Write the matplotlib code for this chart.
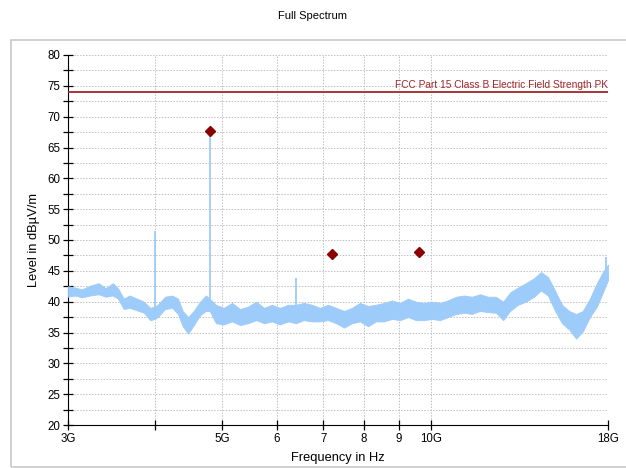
import matplotlib
matplotlib.use("Agg")
import matplotlib.pyplot as plt
from matplotlib.patches import Rectangle
from matplotlib.ticker import FixedLocator, MultipleLocator, NullFormatter

plt.rcParams['font.family'] = ['Liberation Sans', 'DejaVu Sans']

# noise floor envelope of the measured trace (GHz, dBuV/m)
freq_ghz = [3.00, 3.07, 3.14, 3.23, 3.32, 3.40, 3.48, 3.54, 3.61, 3.68,
            3.77, 3.86, 3.94, 4.00, 4.04, 4.14, 4.24, 4.32, 4.39, 4.47,
            4.56, 4.65, 4.74, 4.80, 4.90, 5.03, 5.17, 5.31, 5.45, 5.60,
            5.75, 5.90, 6.06, 6.23, 6.39, 6.56, 6.74, 6.92, 7.11, 7.30,
            7.50, 7.70, 7.90, 8.12, 8.33, 8.56, 8.79, 9.03, 9.27, 9.52,
            9.77, 10.04, 10.31, 10.58, 10.87, 11.16, 11.46, 11.77, 12.09, 12.41,
            12.71, 13.01, 13.35, 13.71, 14.08, 14.41, 14.75, 15.10, 15.45, 15.82,
            16.19, 16.56, 16.95, 17.35, 17.70, 18.00]
level_lo = [40.8, 41.0, 40.7, 41.0, 41.2, 40.8, 41.0, 40.5, 38.8, 39.0,
            38.6, 38.2, 37.0, 37.2, 37.5, 38.8, 39.0, 38.0, 36.0, 34.8,
            36.3, 37.8, 38.5, 38.5, 36.5, 36.3, 36.8, 36.2, 36.5, 37.0,
            36.5, 36.8, 36.3, 36.8, 36.5, 37.0, 36.8, 36.8, 37.0, 36.5,
            35.8, 36.5, 36.8, 36.0, 36.8, 36.8, 37.2, 37.0, 37.5, 37.0,
            37.0, 37.2, 37.0, 37.5, 38.0, 38.2, 38.0, 38.5, 38.3, 38.2,
            37.0, 38.5, 39.5, 40.0, 40.8, 41.8, 41.0, 38.5, 36.5, 35.5,
            34.0, 35.2, 37.5, 39.2, 41.5, 43.5]
level_hi = [42.5, 42.3, 42.0, 42.6, 43.0, 42.2, 43.0, 42.2, 40.5, 41.0,
            40.5, 40.0, 39.0, 39.2, 39.5, 40.8, 41.0, 40.5, 38.5, 37.5,
            38.6, 40.0, 41.0, 40.5, 39.5, 39.0, 39.8, 38.8, 39.2, 40.0,
            39.0, 39.5, 39.0, 39.5, 39.5, 39.8, 39.5, 39.0, 39.5, 39.0,
            38.5, 39.0, 39.8, 39.3, 39.5, 39.8, 40.2, 39.8, 40.5, 40.0,
            39.8, 40.0, 39.8, 40.2, 40.8, 41.0, 40.8, 41.2, 40.8, 40.8,
            40.0, 41.5, 42.3, 43.0, 43.8, 44.8, 44.0, 41.8, 39.5, 38.5,
            38.0, 38.5, 40.5, 43.0, 44.8, 46.0]

# narrow spikes in the trace
spike_ghz = [4.00, 4.80, 6.39, 17.90]
spike_top = [51.5, 67.5, 43.8, 47.2]
spike_base = [37.5, 38.5, 37.0, 44.0]

# peak markers
peak_ghz = [4.80, 7.20, 9.62]
peak_lvl = [67.6, 47.7, 48.05]

limit_lvl = 74.0
limit_name = "FCC Part 15 Class B Electric Field Strength PK"

tick_ghz = [3, 4, 5, 6, 7, 8, 9, 10, 18]
tick_txt = ["3G", "", "5G", "6", "7", "8", "9", "10G", "18G"]

trace_col = "#9dcbfa"
red = "#a0262a"

fig = plt.figure(figsize=(6.26, 4.68), dpi=100)
fig.patches.append(Rectangle((11 / 626, 1 - 467 / 468), 1.0, 427 / 468,
                             transform=fig.transFigure, fill=False,
                             edgecolor="#c8c8c8", linewidth=1.2))
fig.text(0.5, 1 - 16 / 468, "Full Spectrum", ha="center", va="center", fontsize=8)

ax = fig.add_axes([68 / 626, 1 - 425 / 468, 540 / 626, 370 / 468])
ax.set_xscale("log")
ax.set_xlim(3e9, 18e9)
ax.set_ylim(20, 80)

f_hz = [f * 1e9 for f in freq_ghz]
ax.fill_between(f_hz, level_lo, level_hi, color=trace_col, linewidth=0.6,
                edgecolor=trace_col, zorder=3)
ax.vlines([f * 1e9 for f in spike_ghz], spike_base, spike_top,
          color=trace_col, linewidth=1.3, zorder=3)

ax.axhline(limit_lvl, color=red, linewidth=1.3, zorder=4)
ax.text(18e9, limit_lvl + 0.4, limit_name, ha="right", va="bottom",
        color=red, fontsize=7.3, zorder=5)

ax.plot([f * 1e9 for f in peak_ghz], peak_lvl, linestyle="none", marker="D",
        markersize=5, color="#8b0000", zorder=6)

ax.xaxis.set_major_locator(FixedLocator([f * 1e9 for f in tick_ghz]))
ax.xaxis.set_minor_locator(FixedLocator([]))
ax.set_xticklabels(tick_txt)
ax.xaxis.set_minor_formatter(NullFormatter())
ax.yaxis.set_major_locator(MultipleLocator(5))
ax.yaxis.set_minor_locator(MultipleLocator(2.5))

ax.grid(True, which="both", color="#c0c0c0", linestyle=(0, (1.5, 1.5)), linewidth=0.7)
ax.set_axisbelow(True)
for s in ["top", "right"]:
    ax.spines[s].set_visible(False)
ax.tick_params(axis="both", which="both", direction="inout", length=7,
               width=0.9, labelsize=8.3, pad=2)
ax.tick_params(axis="y", which="minor", length=7)

ax.set_xlabel("Frequency in Hz", fontsize=9.3, labelpad=5)
ax.set_ylabel("Level in dBµV/m", fontsize=9.3, labelpad=5)

fig.savefig("out.png", dpi=100)
